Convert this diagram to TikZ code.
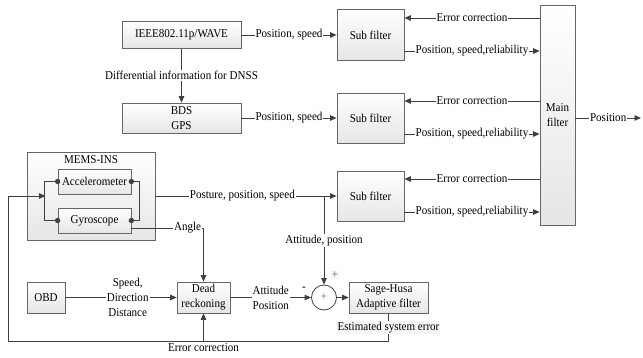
\documentclass[tikz,border=0pt]{standalone}
\usepackage{fontspec}
\setmainfont{Liberation Serif}[FakeStretch=0.92]
\usetikzlibrary{arrows.meta,positioning}

\tikzset{
  blk/.style={draw=black!60, line width=0.7pt, top color=white, bottom color=black!10,
    align=center, inner sep=1pt},
  link/.style={draw=black!75, line width=0.9pt},
  flow/.style={link, -{Triangle[length=6.5pt,width=5.5pt]}},
  lbl/.style={fill=white, inner sep=1pt, align=center},
  greylbl/.style={lbl, fill=black!4},
}

\begin{document}
\begin{tikzpicture}[x=1pt, y=-1pt, font=\fontsize{12}{15}\selectfont]
    \useasboundingbox (0,0) rectangle (643,357);

    % sources
    \node[blk, minimum width=119pt, minimum height=27pt] (ieee) at (181.5,35) {IEEE802.11p/WAVE};
    \node[blk, minimum width=119pt, minimum height=30pt] (bds) at (181.5,118) {BDS\\GPS};

    % inertial unit
    \node[blk, minimum width=128pt, minimum height=88pt] (mems) at (91,196) {};
    \node[anchor=north, inner sep=1pt] (memslbl) at ([yshift=-3pt]mems.north) {MEMS-INS};
    \node[blk, minimum width=73pt, minimum height=25pt] (acc) at (94.5,181.5) {Accelerometer};
    \node[blk, minimum width=73pt, minimum height=25pt] (gyro) at (94.5,220.5) {Gyroscope};
    \draw[link] (acc.west) -- ++(-13,0) |- (gyro.west);
    \draw[link] (acc.east) -- ++(8,0) |- (gyro.east);
    \foreach \n in {acc.west, acc.east, gyro.west, gyro.east}
        \fill[black!75] (\n) circle (2.7pt);
    \coordinate (fbin) at (45.5,196);

    % filters
    \node[blk, minimum width=67pt, minimum height=51pt] (sub1) at (370.5,35) {Sub filter};
    \node[blk, minimum width=67pt, minimum height=50pt] (sub2) at (370.5,118) {Sub filter};
    \node[blk, minimum width=67pt, minimum height=50pt] (sub3) at (370.5,196) {Sub filter};
    \node[blk, minimum width=35pt, minimum height=220pt] (mainf) at (557.5,115) {Main\\filter};

    % lower chain
    \node[blk, minimum width=38pt, minimum height=31pt] (obd) at (46,297.5) {OBD};
    \node[blk, minimum width=53pt, minimum height=31pt] (dr) at (203.5,297.5) {Dead\\reckoning};
    \node[draw=black!75, line width=0.8pt, circle, minimum size=25pt, inner sep=0pt,
        text=black!60] (sum) at (324,297.5) {+};
    \node[blk, minimum width=79pt, minimum height=31pt] (sh) at (388.5,297.5) {Sage-Husa\\Adaptive filter};
    \node[greylbl, text=black!60] (plus) at (335,275) {+};
    \node[lbl] (minus) at (304,289) {-};

    % connections
    \draw[flow] (ieee) -- node[lbl] {Position, speed} (sub1);
    \draw[flow] (bds) -- node[lbl] {Position, speed} (sub2);
    \draw[flow] (ieee) -- node[lbl] {Differential information for DNSS} (bds);

    \foreach \s in {sub1,sub2,sub3} {
        \path ([yshift=17pt]\s.east) coordinate (\s-err)
              ([yshift=-16pt]\s.east) coordinate (\s-pos);
        \draw[flow] (\s-err -| mainf.west) -- node[lbl] {Error correction} (\s-err);
        \draw[flow] (\s-pos) -- node[lbl] {Position, speed,reliability} (\s-pos -| mainf.west);
    }

    \coordinate (out) at (641,118);
    \draw[flow] (mainf.east |- out) -- node[lbl] {Position} (out);

    \draw[flow] (mems.east) -- node[lbl, pos=0.48] {Posture, position, speed} (sub3.west);
    \coordinate (jn) at (sum.north |- mems.east);
    \draw[flow] (jn) -- node[lbl] {Attitude, position} (sum.north);

    \draw[flow] ([yshift=-7.5pt]gyro.east) -| node[lbl, pos=0.39] {Angle} (dr.north);
    \draw[flow] (obd) -- node[lbl, pos=0.56] {Speed,\\Direction\\Distance} (dr);
    \draw[flow] (dr) -- node[lbl] {Attitude\\Position} (sum);
    \draw[flow] (sum) -- (sh);

    % feedback
    \coordinate (fb) at (8,341);
    \draw[flow] (sh.south) -- node[greylbl] {Estimated system error} (sh.south |- fb)
        -- (fb) |- (fbin);
    \draw[flow] (dr.south |- fb) node[below, inner sep=2pt] {Error correction} -- (dr.south);
\end{tikzpicture}
\end{document}
